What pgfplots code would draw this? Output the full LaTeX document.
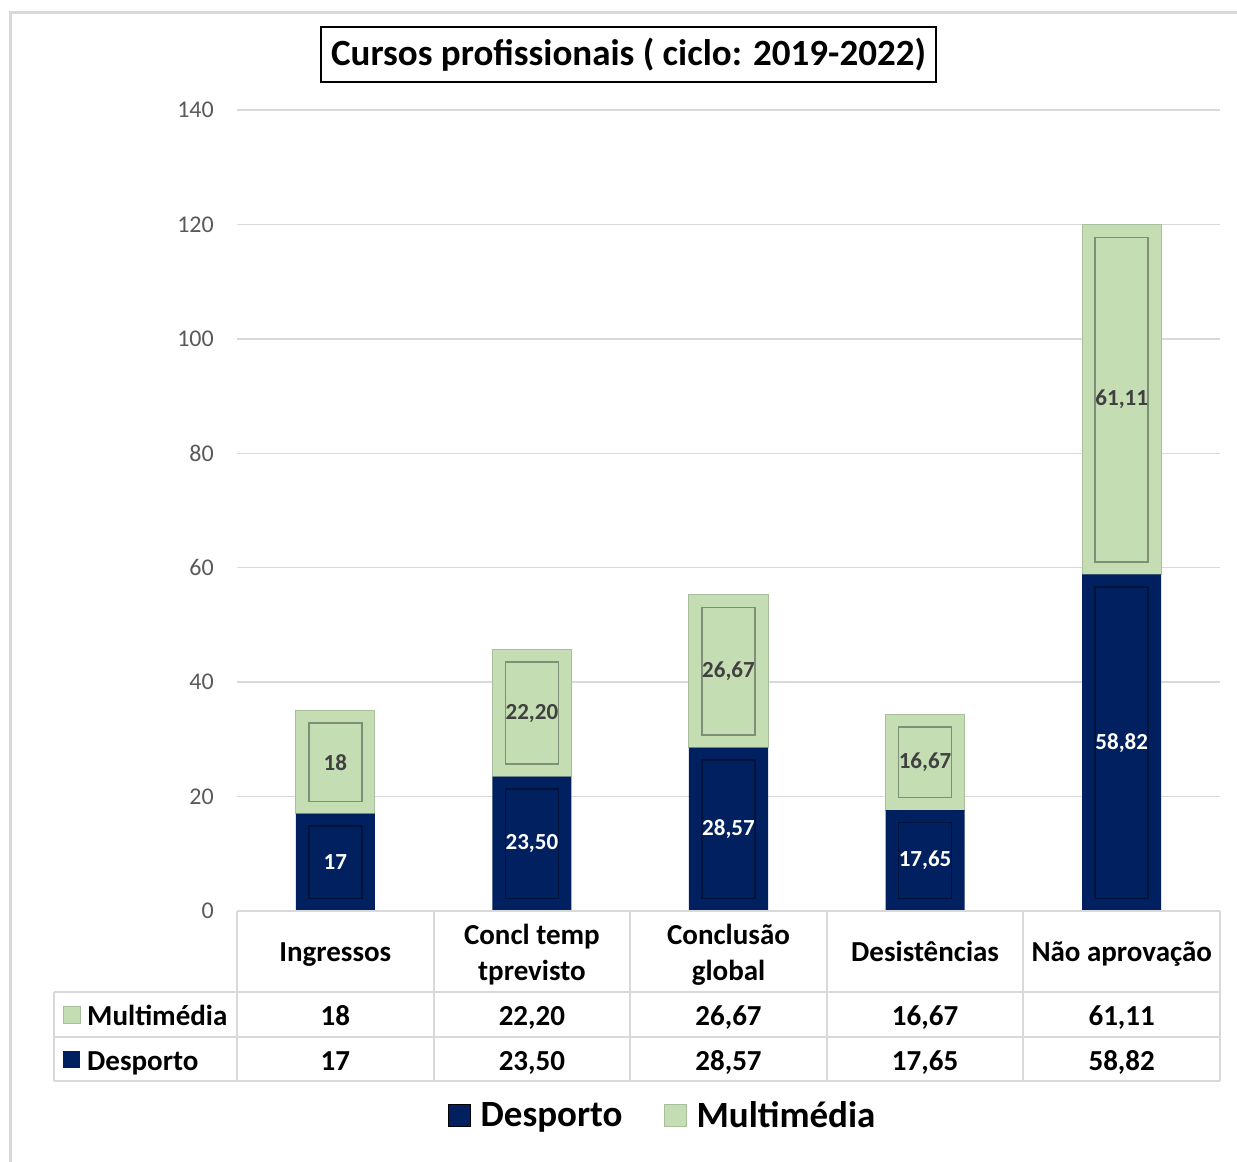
\documentclass[border=0pt]{standalone}
\usepackage{pgfplots}
\pgfplotsset{compat=1.18}
\usepackage{pgfplotstable}
\usepackage{fontspec}
\setmainfont{Carlito}
\definecolor{navy}{HTML}{002060}
\definecolor{navyline}{HTML}{00133D}
\definecolor{lgreen}{HTML}{C4DDB3}
\definecolor{greenline}{HTML}{7F8E77}
\definecolor{greenedge}{HTML}{A9BE9C}
\definecolor{gridgray}{HTML}{D9D9D9}
\definecolor{ticktext}{HTML}{595959}
\definecolor{mlab}{HTML}{404040}
\newcommand{\fs}[2]{\fontsize{#1bp}{#2bp}\selectfont}

\pgfplotstableread{
x d m dl ml
0 17 18 17 18
1 23.50 22.20 23,50 22,20
2 28.57 26.67 28,57 26,67
3 17.65 16.67 17,65 16,67
4 58.82 61.11 58,82 61,11
}\data

\pgfplotsset{
  base/.style={
    scale only axis, width=983bp, height=801bp,
    at={(237bp,-911bp)}, anchor=south west,
    xmin=-0.5, xmax=4.5, ymin=0, ymax=140,
    xtick=\empty, ytick=\empty,
    axis line style={draw=none},
    ybar stacked,
    clip=false,
  }
}

\begin{document}
\begin{tikzpicture}
\useasboundingbox (0,0) rectangle (1237bp,-1162bp);

\begin{axis}[base,
  ytick={0,20,...,140},
  ymajorgrids, grid style={gridgray, line width=1.5bp},
  major tick length=0pt,
  yticklabel style={font=\fs{24}{28}, color=ticktext, inner sep=0pt, anchor=east, xshift=-23bp},
  /pgf/number format/assume math mode=true,
  bar width=0.402,
  legend style={at={(0.4333,-0.2547)}, anchor=center, draw=none, fill=none, legend columns=2,
    font=\fs{37}{44}\bfseries, /tikz/every even column/.append style={column sep=39bp}},
  legend image code/.code={\draw[#1] (0bp,-11bp) rectangle (22bp,11bp); \path (30bp,0bp);},
]
\addplot[fill=navy, draw=none] table[x=x,y=d]{\data};
\addlegendentry{Desporto}
\addplot[fill=lgreen, draw=greenedge, line width=1bp] table[x=x,y=m]{\data};
\addlegendentry{Multimédia}
\end{axis}

\begin{axis}[base, bar width=0.27]
\addplot[fill=none, draw=none] table[x=x, y expr=2.18]{\data};
\addplot[fill=none, draw=navyline, line width=1.5bp] table[x=x, y expr=\thisrow{d}-4.36]{\data};
\addplot[fill=none, draw=none] table[x=x, y expr=4.36]{\data};
\addplot[fill=none, draw=greenline, line width=1.5bp] table[x=x, y expr=\thisrow{m}-4.36]{\data};
\end{axis}

\begin{axis}[base, bar width=0.402, nodes near coords, point meta=explicit symbolic]
\addplot[fill=none, draw=none,
  every node near coord/.append style={anchor=center, font=\fs{23}{26}\bfseries, text=white}]
  table[x=x,y=d,meta=dl]{\data};
\addplot[fill=none, draw=none,
  every node near coord/.append style={anchor=center, font=\fs{23}{26}\bfseries, text=mlab}]
  table[x=x,y=m,meta=ml]{\data};
\end{axis}

\begin{scope}[x=1bp,y=-1bp]
\draw[gridgray, line width=3bp] (10.5,1162) -- (10.5,12.5) -- (1237,12.5);
\node[draw=black, line width=2bp, minimum width=615bp, minimum height=55bp, inner sep=0pt,
  font=\fs{37}{42}\bfseries] at (628.5,54.5) {Cursos profissionais ( ciclo: 2019-2022)};
% table grid
\begin{scope}[gridgray, line width=2bp]
\draw (237,911) -- (1220,911);
\draw (54,992) -- (1220,992);
\draw (54,1037) -- (1220,1037);
\draw (54,1081) -- (1220,1081);
\draw (54,992) -- (54,1081);
\foreach \xx in {237,433.6,630.2,826.8,1023.4,1220} \draw (\xx,911) -- (\xx,1081);
\end{scope}
\foreach \i/\nm in {0/Ingressos,3/Desistências,4/Não aprovação}
  \node[anchor=base, font=\fs{29}{36}\bfseries, inner sep=0pt] at ({335.3+196.6*\i},961) {\nm};
\foreach \i/\nm in {1/{Concl temp\\tprevisto},2/{Conclusão\\global}}
  \node[align=center, font=\fs{29}{36}\bfseries, inner sep=0pt] at ({335.3+196.6*\i},954.5) {\nm};
\foreach \i in {0,...,4}{
  \pgfplotstablegetelem{\i}{ml}\of\data
  \node[anchor=base, font=\fs{29}{34}\bfseries, inner sep=0pt] at ({335.3+196.6*\i},1025) {\pgfplotsretval};
  \pgfplotstablegetelem{\i}{dl}\of\data
  \node[anchor=base, font=\fs{29}{34}\bfseries, inner sep=0pt] at ({335.3+196.6*\i},1070) {\pgfplotsretval};
}
\fill[lgreen, draw=greenedge, line width=0.8bp] (63,1006) rectangle (80,1023);
\fill[navy] (63,1051) rectangle (80,1068);
\node[anchor=base west, inner sep=0pt, font=\fs{29}{34}\bfseries] at (87,1025) {Multimédia};
\node[anchor=base west, inner sep=0pt, font=\fs{29}{34}\bfseries] at (87,1070) {Desporto};
\end{scope}
\end{tikzpicture}
\end{document}
